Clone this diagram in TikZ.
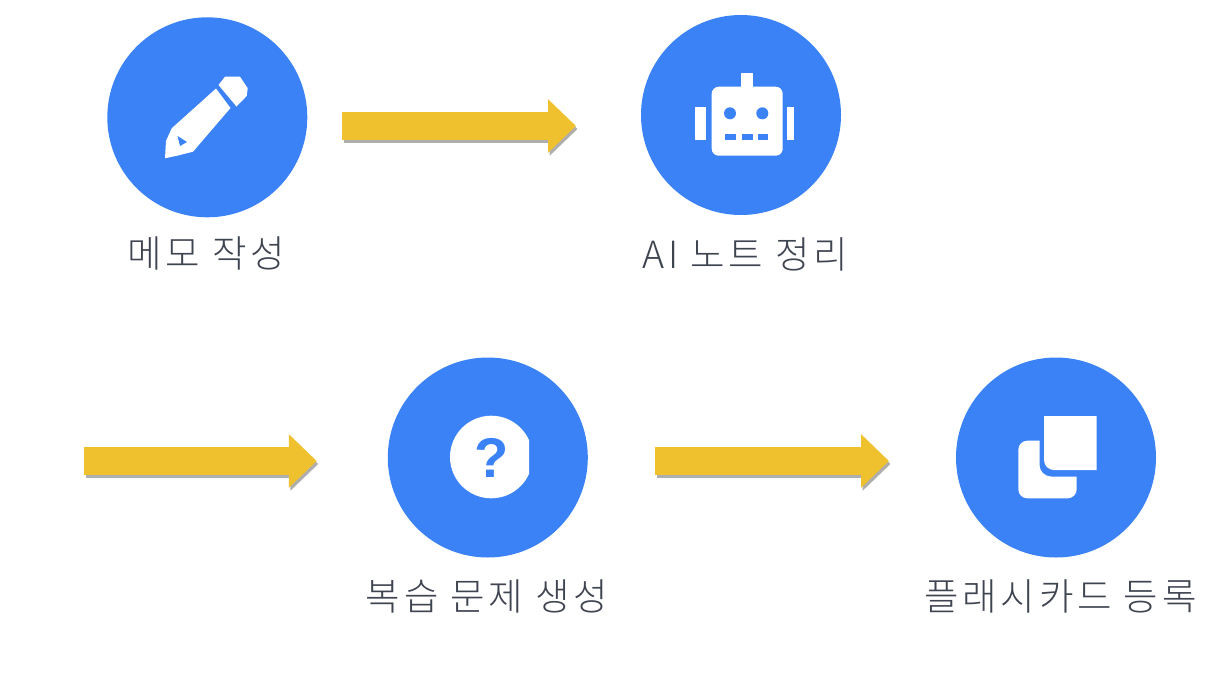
\documentclass[tikz,border=0pt]{standalone}
\usepackage{fontspec}
\usetikzlibrary{arrows.meta}
\newfontfamily\krf[LetterSpace=10]{Noto Sans CJK KR Light}
\newfontfamily\qf{Liberation Sans}
\definecolor{cblue}{HTML}{3B82F6}
\definecolor{cyellow}{HTML}{EFC12F}
\definecolor{ctext}{HTML}{3F4451}
\tikzset{
  stepcircle/.style={circle,fill=cblue,minimum size=200pt,inner sep=0pt,outer sep=0pt},
  steplabel/.style={font=\krf\fontsize{37.5}{40}\selectfont,text=ctext,inner sep=0pt,anchor=center},
  blockarrow/.style={draw=cyellow,line width=28pt,-{Triangle[length=28pt,width=52pt,fill=cyellow]}},
  blockshadow/.style={draw=black!45,draw opacity=.7,fill opacity=.7,line width=28pt,-{Triangle[length=28pt,width=52pt,fill=black!45]},transform canvas={xshift=1.5pt,yshift=-3pt}},
  iconw/.style={fill=white,draw=none},
  iconb/.style={fill=cblue,draw=none}
}
\begin{document}
\begin{tikzpicture}[x=1pt,y=-1pt]
\useasboundingbox (0,0) rectangle (1225,691);
% step circles
\node[stepcircle] (memo) at (207.3,117.3) {};
\node[stepcircle] (ai) at (741,115) {};
\node[stepcircle] (quiz) at (487.8,457.5) {};
\node[stepcircle] (card) at (1056,457.5) {};
% labels
\node[steplabel] (memol) at (206,253.5) {메모 작성};
\node[steplabel] (ail) at (745,254) {AI 노트 정리};
\node[steplabel] (quizl) at (487,596) {복습 문제 생성};
\node[steplabel] (cardl) at (1060.5,596) {플래시카드 등록};
% free start of the second row
\coordinate (start) at (84,461);
% arrows
\draw[blockshadow,shorten <=34.7pt,shorten >=65pt] ([yshift=-8.7pt]memo.east) -- ([yshift=-11pt]ai.west);
\draw[blockshadow,shorten >=71pt] (start) -- ([yshift=-3.5pt]quiz.west);
\draw[blockshadow,shorten <=67.3pt,shorten >=67pt] ([yshift=-3.5pt]quiz.east) -- ([yshift=-3.5pt]card.west);
\draw[blockarrow,shorten <=34.7pt,shorten >=65pt] ([yshift=-8.7pt]memo.east) -- ([yshift=-11pt]ai.west);
\draw[blockarrow,shorten >=71pt] (start) -- ([yshift=-3.5pt]quiz.west);
\draw[blockarrow,shorten <=67.3pt,shorten >=67pt] ([yshift=-3.5pt]quiz.east) -- ([yshift=-3.5pt]card.west);
% pencil icon
\fill[iconw] (165,158.3) -- (166,141) -- (171.7,128.3) -- (216,88.5) -- (230.5,108) -- (193,151.7) -- (178,155.5) -- cycle;
\fill[iconw] (218.5,85) -- (225,76.7) -- (240,76.7) -- (247.7,88.3) -- (246.7,96) -- (236.5,106.5) -- cycle;
\fill[iconb] (177.5,136) -- (187,142) -- (180,146) -- cycle;
% robot icon
\fill[iconw,rounded corners=7pt] (711.7,86.7) rectangle (782.7,155.7);
\fill[iconw] (740.7,73.3) rectangle (752.7,90);
\fill[iconw] (695,106.7) rectangle (706,140);
\fill[iconw] (787.3,106.7) rectangle (794,140);
\fill[iconb] (730,113.3) circle (6);
\fill[iconb] (762.3,113.3) circle (6);
\fill[iconb] (725,134) rectangle (736,140);
\fill[iconb] (741.7,134) rectangle (752.7,140);
\fill[iconb] (758.3,134) rectangle (768.3,140);
% question icon
\begin{scope}
\clip (440,410) rectangle (529,510);
\fill[iconw] (491.3,457) circle (41.3);
\end{scope}
\node[inner sep=0pt,text=cblue,font=\qf\bfseries\fontsize{56}{60}\selectfont] (qmark) at (492,457.5) {?};
% cards icon
\fill[iconw,rounded corners=9pt] (1018.3,440.7) rectangle (1076.7,498.3);
\fill[iconb,rounded corners=12pt] (1039.5,410) rectangle (1100,476.5);
\fill[iconw] (1096.7,416) -- (1096.7,470) [rounded corners=10pt] -- (1044,470) [sharp corners] -- (1044,416) -- cycle;
\end{tikzpicture}
\end{document}
